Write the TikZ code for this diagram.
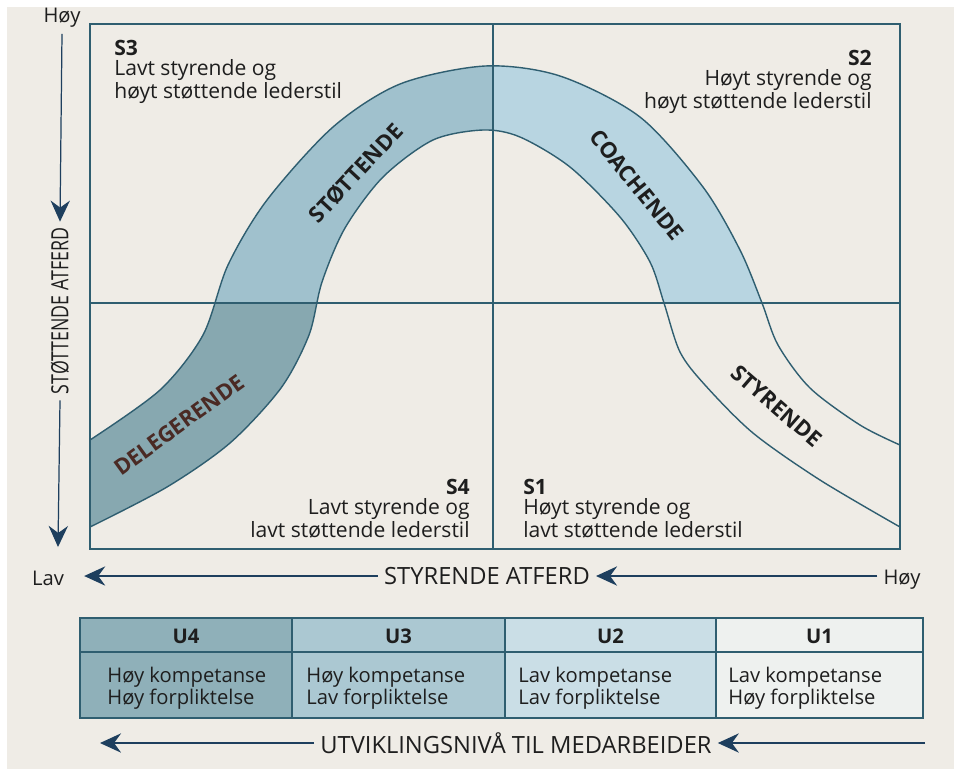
\documentclass[tikz,border=0pt]{standalone}
\usepackage{fontspec}
\setmainfont{Open Sans}
\newfontfamily\narrowfont[FakeStretch=0.75]{Open Sans}
\usetikzlibrary{arrows.meta}

\definecolor{page}{HTML}{EFECE6}
\definecolor{frame}{HTML}{2F5E70}
\definecolor{arrowblue}{HTML}{1E3F5E}
\definecolor{ink}{HTML}{1E1E1E}
\definecolor{delebrown}{HTML}{4A2A24}
\definecolor{bandlow}{HTML}{87A8B0}
\definecolor{bandmid}{HTML}{A0C1CD}
\definecolor{bandhigh}{HTML}{B8D5E1}
\definecolor{cellfour}{HTML}{8FB0B9}
\definecolor{cellthree}{HTML}{ABC8D2}
\definecolor{celltwo}{HTML}{CADEE6}
\definecolor{cellone}{HTML}{EEF1EF}

% the bent band, outer edge then inner edge back
\def\outeredge{(90,440) (160,390) (203,335) (228,265) (267,200) (333,127) (400,84) (485,66) (560,76) (640,117) (703,187) (740,250) (762,303) (778,345) (810,388) (860,425) (900,445)}
\def\inneredge{(900,527) (820,480) (753,433) (705,385) (680,352) (664,303) (650,262) (620,217) (570,167) (520,137) (483,130) (433,140) (383,177) (345,228) (322,282) (309,335) (281,388) (230,443) (167,487) (90,527)}

\begin{document}
\begin{tikzpicture}[x=0.02cm, y=-0.02cm,
  frameline/.style={draw=frame, line width=0.8pt},
  axisarrow/.style={draw=arrowblue, line width=0.7pt,
    -{Stealth[length=12pt, width=11pt, inset=4pt]}},
  quadlabel/.style={text=ink, inner sep=0pt,
    font=\fontsize{12}{11.2}\selectfont},
  bandlabel/.style={text=ink, font=\bfseries\fontsize{12.5}{14}\selectfont},
  axislabel/.style={text=ink, font=\fontsize{13.5}{15}\selectfont},
  smalllabel/.style={text=ink, font=\fontsize{11.5}{12}\selectfont},
  headtext/.style={text=ink, font=\bfseries\fontsize{11.5}{12}\selectfont},
  celltext/.style={text=ink, inner sep=0pt, align=left,
    font=\fontsize{11.5}{11}\selectfont}]
  \useasboundingbox (0,0) rectangle (954,769);
  \fill[white] (0,0) rectangle (954,769);
  \fill[page] (7,7) rectangle (954,769);

  % band, one shade for each quadrant
  \begin{scope}
    \clip (90,303) rectangle (493,549);
    \fill[bandlow] plot[smooth] coordinates {\outeredge} -- plot[smooth] coordinates {\inneredge} -- cycle;
  \end{scope}
  \begin{scope}
    \clip (90,24) rectangle (493,303);
    \fill[bandmid] plot[smooth] coordinates {\outeredge} -- plot[smooth] coordinates {\inneredge} -- cycle;
  \end{scope}
  \begin{scope}
    \clip (493,24) rectangle (900,303);
    \fill[bandhigh] plot[smooth] coordinates {\outeredge} -- plot[smooth] coordinates {\inneredge} -- cycle;
  \end{scope}
  \draw[frameline] plot[smooth] coordinates {\outeredge};
  \draw[frameline] plot[smooth] coordinates {\inneredge};

  % quadrants
  \draw[frameline] (90,24) rectangle (900,549);
  \draw[frameline] (493,24) -- (493,549);
  \draw[frameline] (90,303) -- (900,303);

  \node[quadlabel, anchor=north west, align=left] (sthree) at (114,40)
    {\textbf{S3}\\Lavt styrende og\\høyt støttende lederstil};
  \node[quadlabel, anchor=north east, align=right] (stwo) at (872,50)
    {\textbf{S2}\\Høyt styrende og\\høyt støttende lederstil};
  \node[quadlabel, anchor=north east, align=right] (sfour) at (470,479)
    {\textbf{S4}\\Lavt styrende og\\lavt støttende lederstil};
  \node[quadlabel, anchor=north west, align=left] (sone) at (523,479)
    {\textbf{S1}\\Høyt styrende og\\lavt støttende lederstil};

  \node[bandlabel, rotate=47] (stottende) at (356,173) {STØTTENDE};
  \node[bandlabel, rotate=-51] (coachende) at (637,185) {COACHENDE};
  \node[bandlabel, rotate=36, text=delebrown] (delegerende) at (179,425) {DELEGERENDE};
  \node[bandlabel, rotate=-41] (styrende) at (777,406) {STYRENDE};

  % vertical axis
  \node[smalllabel] (hoyleft) at (62,18) {Høy};
  \node[axislabel, font=\narrowfont\fontsize{13.5}{15}\selectfont, rotate=90] (stotteaxis) at (60,311) {STØTTENDE ATFERD};
  \coordinate (lowtip) at (58,547);
  \draw[axisarrow] (hoyleft.south) -- (stotteaxis.east);
  \draw[axisarrow] (stotteaxis.west) -- (lowtip);

  % horizontal axis
  \node[smalllabel] (lavbottom) at (48,578) {Lav};
  \node[axislabel] (styreaxis) at (487,576) {STYRENDE ATFERD};
  \node[smalllabel] (hoybottom) at (902,580) {Høy};
  \draw[axisarrow, shorten >=8pt] (styreaxis.west) -- (lavbottom.east |- styreaxis.west);
  \draw[axisarrow] (hoybottom.west |- styreaxis.east) -- (styreaxis.east);

  % development levels
  \foreach \lft/\rgt/\shade/\lvl/\txtx/\first/\second in
    {80/292/cellfour/U4/107/Høy kompetanse/Høy forpliktelse,
     292/505/cellthree/U3/306/Høy kompetanse/Lav forpliktelse,
     505/716/celltwo/U2/518/Lav kompetanse/Lav forpliktelse,
     716/923/cellone/U1/728/Lav kompetanse/Høy forpliktelse} {
    \fill[\shade] (\lft,618) rectangle (\rgt,718);
    \node[headtext] (head\lvl) at ({(\lft+\rgt)/2},636) {\lvl};
    \node[celltext, anchor=north west] (body\lvl) at (\txtx,667) {\first\\\second};
  }
  \draw[frameline] (80,618) rectangle (923,718);
  \draw[frameline] (80,652) -- (923,652);
  \foreach \xdiv in {292,505,716}
    \draw[frameline] (\xdiv,618) -- (\xdiv,718);

  \node[axislabel] (utvaxis) at (516,743) {UTVIKLINGSNIVÅ TIL MEDARBEIDER};
  \coordinate (utvlefttip) at (100,743);
  \coordinate (utvrightend) at (925,743);
  \draw[axisarrow] (utvaxis.west) -- (utvlefttip);
  \draw[axisarrow] (utvrightend) -- (utvaxis.east);
\end{tikzpicture}
\end{document}
